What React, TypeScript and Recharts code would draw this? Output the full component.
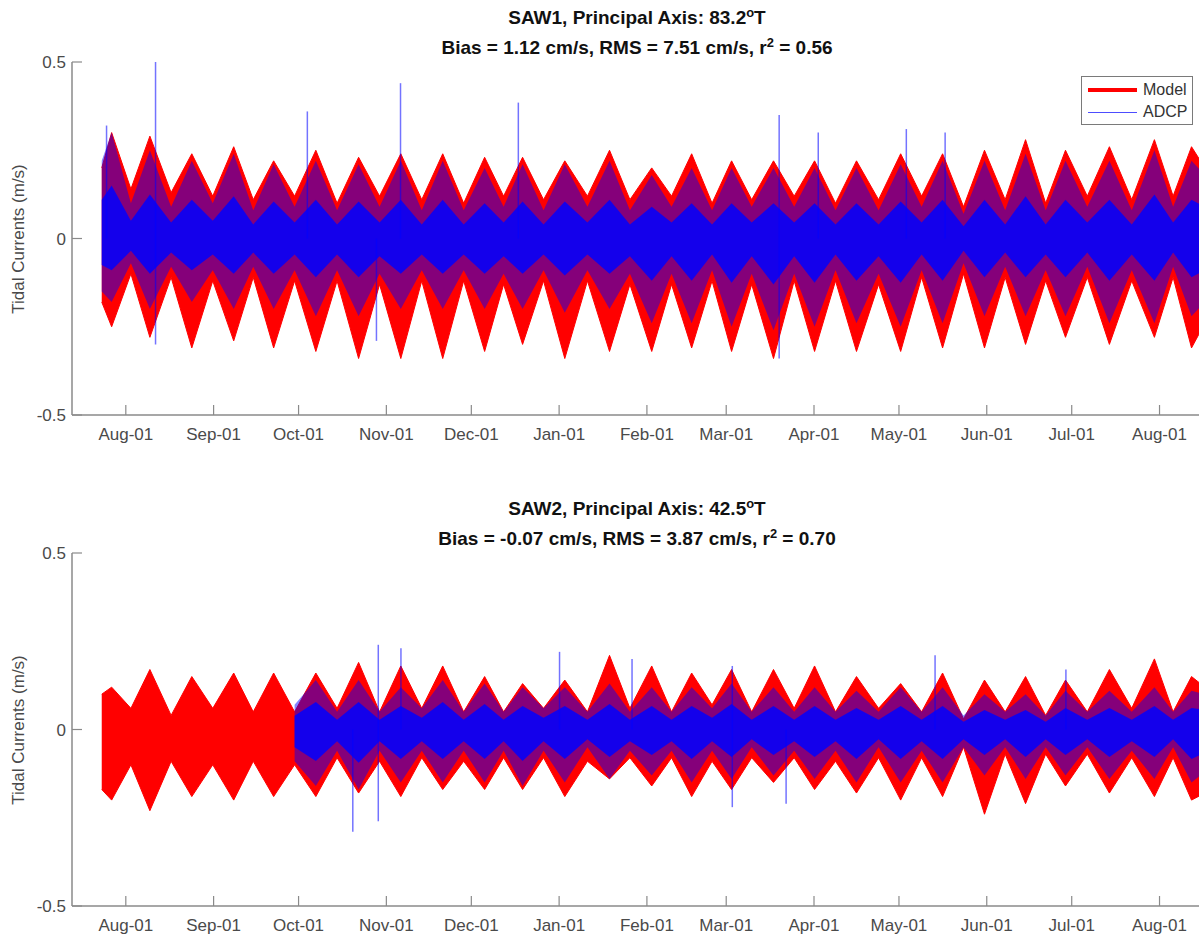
import React from 'react';
import { ComposedChart, Area, Bar, XAxis, YAxis } from 'recharts';

// ---------- axes ----------
const monthTicks = [0, 31, 61, 92, 122, 153, 184, 212, 243, 273, 304, 334, 365];
const monthLabels = ['Aug-01', 'Sep-01', 'Oct-01', 'Nov-01', 'Dec-01', 'Jan-01', 'Feb-01', 'Mar-01', 'Apr-01', 'May-01', 'Jun-01', 'Jul-01', 'Aug-01'];
const yTicks = [-0.5, 0, 0.5];
const yTickLabels = ['-0.5', '0', '0.5'];
const xDomain = [-19, 380];

// ---------- envelope times (days from Aug-01) ----------
const startDay = -8.5;
const endDay = 381;
const springDays = [-5, 8.5, 23.3, 38.1, 52.2, 67.1, 82.2, 97.1, 111.9, 126.7, 140.1, 155, 170.8, 185.7, 199.8, 213.9, 228.7, 243.2, 258, 273.6, 288.4, 303.2, 317.7, 331.8, 347.3, 363.2, 376.3];
const neapDays = [1.8, 16, 30.7, 45, 59.6, 74.6, 89.6, 104.5, 119.3, 133.4, 147.5, 163, 178, 192.7, 207, 221, 236, 250.6, 265.8, 281, 295.8, 310.5, 324.8, 339.5, 355.2, 369.8];

// ---------- SAW1 Model ----------
const saw1ModelStart = [-0.18, 0.2];
const saw1ModelEnd = [-0.24, 0.2];
const saw1ModelSpringHi = [0.30, 0.29, 0.24, 0.26, 0.22, 0.25, 0.23, 0.24, 0.24, 0.23, 0.23, 0.22, 0.25, 0.20, 0.24, 0.22, 0.22, 0.22, 0.22, 0.24, 0.24, 0.25, 0.28, 0.25, 0.26, 0.28, 0.26];
const saw1ModelSpringLo = [-0.25, -0.28, -0.31, -0.29, -0.31, -0.32, -0.34, -0.34, -0.34, -0.32, -0.30, -0.34, -0.32, -0.32, -0.31, -0.32, -0.34, -0.32, -0.32, -0.32, -0.31, -0.31, -0.30, -0.28, -0.30, -0.28, -0.31];
const saw1ModelNeapHi = [0.14, 0.13, 0.12, 0.11, 0.12, 0.10, 0.12, 0.11, 0.10, 0.12, 0.11, 0.12, 0.11, 0.12, 0.10, 0.11, 0.12, 0.10, 0.11, 0.12, 0.09, 0.11, 0.10, 0.12, 0.11, 0.12];
const saw1ModelNeapLo = [-0.10, -0.11, -0.12, -0.11, -0.12, -0.12, -0.13, -0.12, -0.12, -0.13, -0.12, -0.12, -0.13, -0.13, -0.12, -0.13, -0.12, -0.12, -0.13, -0.11, -0.10, -0.11, -0.12, -0.11, -0.12, -0.11];

// ---------- SAW1 ADCP ----------
const saw1AdcpStart = [-0.15, 0.22];
const saw1AdcpEnd = [-0.18, 0.18];
const saw1AdcpSpringHi = [0.30, 0.25, 0.22, 0.24, 0.21, 0.22, 0.21, 0.22, 0.22, 0.20, 0.21, 0.21, 0.22, 0.18, 0.20, 0.20, 0.20, 0.20, 0.20, 0.21, 0.22, 0.22, 0.24, 0.22, 0.22, 0.25, 0.22];
const saw1AdcpSpringLo = [-0.18, -0.20, -0.18, -0.20, -0.20, -0.22, -0.22, -0.20, -0.20, -0.20, -0.20, -0.21, -0.20, -0.24, -0.24, -0.25, -0.26, -0.25, -0.24, -0.25, -0.24, -0.22, -0.22, -0.22, -0.24, -0.24, -0.22];
const saw1AdcpNeapHi = [0.10, 0.09, 0.10, 0.08, 0.09, 0.08, 0.09, 0.08, 0.08, 0.09, 0.08, 0.09, 0.08, 0.09, 0.08, 0.09, 0.09, 0.08, 0.08, 0.09, 0.07, 0.08, 0.08, 0.09, 0.08, 0.09];
const saw1AdcpNeapLo = [-0.07, -0.08, -0.09, -0.08, -0.09, -0.09, -0.10, -0.09, -0.09, -0.10, -0.09, -0.09, -0.10, -0.10, -0.09, -0.10, -0.10, -0.09, -0.10, -0.09, -0.07, -0.08, -0.09, -0.08, -0.09, -0.08];
const saw1SpikeDays = [-6.7, 10.6, 64.2, 88.6, 97.1, 138.7, 230.8, 244.6, 275.7, 289.4];
const saw1SpikeLo = [0, -0.30, 0, -0.29, 0, 0, -0.34, 0, 0, 0];
const saw1SpikeHi = [0.32, 0.50, 0.36, 0, 0.44, 0.385, 0.35, 0.30, 0.31, 0.30];

// ---------- SAW2 Model ----------
const saw2ModelStart = [-0.17, 0.10];
const saw2ModelEnd = [-0.18, 0.12];
const saw2ModelSpringHi = [0.12, 0.17, 0.15, 0.16, 0.16, 0.16, 0.19, 0.18, 0.18, 0.15, 0.13, 0.14, 0.21, 0.18, 0.16, 0.17, 0.17, 0.18, 0.15, 0.13, 0.16, 0.14, 0.15, 0.14, 0.17, 0.20, 0.15];
const saw2ModelSpringLo = [-0.20, -0.23, -0.19, -0.20, -0.19, -0.19, -0.18, -0.19, -0.17, -0.17, -0.17, -0.19, -0.14, -0.16, -0.19, -0.17, -0.15, -0.17, -0.18, -0.20, -0.19, -0.24, -0.21, -0.16, -0.18, -0.19, -0.20];
const saw2ModelNeapHi = [0.06, 0.04, 0.06, 0.05, 0.05, 0.06, 0.05, 0.06, 0.05, 0.05, 0.06, 0.05, 0.06, 0.05, 0.07, 0.05, 0.06, 0.05, 0.06, 0.05, 0.03, 0.05, 0.04, 0.05, 0.06, 0.05];
const saw2ModelNeapLo = [-0.10, -0.09, -0.10, -0.09, -0.10, -0.08, -0.09, -0.08, -0.09, -0.08, -0.08, -0.09, -0.08, -0.08, -0.09, -0.08, -0.08, -0.09, -0.08, -0.08, -0.05, -0.07, -0.07, -0.07, -0.08, -0.08];

// ---------- SAW2 ADCP (record begins late September) ----------
const saw2AdcpEnd = [-0.12, 0.10];
const saw2AdcpSpringHi = [null, null, null, null, null, 0.14, 0.14, 0.12, 0.14, 0.13, 0.12, 0.12, 0.13, 0.12, 0.12, 0.13, 0.12, 0.12, 0.11, 0.12, 0.12, 0.10, 0.10, 0.11, 0.11, 0.12, 0.11];
const saw2AdcpSpringLo = [null, null, null, null, null, -0.16, -0.17, -0.15, -0.15, -0.15, -0.16, -0.15, -0.14, -0.13, -0.15, -0.14, -0.13, -0.14, -0.15, -0.15, -0.15, -0.13, -0.14, -0.13, -0.14, -0.14, -0.15];
const saw2AdcpNeapHi = [null, null, null, null, 0.07, 0.05, 0.05, 0.06, 0.05, 0.05, 0.06, 0.05, 0.05, 0.05, 0.06, 0.05, 0.05, 0.05, 0.05, 0.05, 0.04, 0.05, 0.04, 0.05, 0.05, 0.05];
const saw2AdcpNeapLo = [null, null, null, null, -0.09, -0.06, -0.06, -0.06, -0.06, -0.06, -0.06, -0.05, -0.06, -0.06, -0.06, -0.05, -0.06, -0.06, -0.05, -0.06, -0.05, -0.05, -0.05, -0.05, -0.06, -0.05];
const saw2SpikeDays = [80, 89, 97, 153, 178.6, 214, 233, 285.6, 331.8];
const saw2SpikeLo = [-0.29, -0.26, 0, 0, 0, -0.22, -0.21, 0, 0];
const saw2SpikeHi = [0, 0.24, 0.23, 0.22, 0.20, 0.18, 0, 0.21, 0.17];

// ---------- builders ----------
type Row = { day: number; range: number[] };

function buildEnvelope(start: number[] | null, sHi: (number | null)[], sLo: (number | null)[], nHi: (number | null)[], nLo: (number | null)[], end: number[]): Row[] {
  const rows: Row[] = [];
  if (start) rows.push({ day: startDay, range: start });
  for (let k = 0; k < springDays.length; k++) {
    if (sHi[k] != null && sLo[k] != null) rows.push({ day: springDays[k], range: [sLo[k] as number, sHi[k] as number] });
    if (k < neapDays.length && nHi[k] != null && nLo[k] != null) rows.push({ day: neapDays[k], range: [nLo[k] as number, nHi[k] as number] });
  }
  rows.push({ day: endDay, range: end });
  return rows;
}

function buildSpikes(days: number[], lo: number[], hi: number[]): Row[] {
  return days.map((d, i) => ({ day: d, range: [lo[i], hi[i]] }));
}

const saw1Model = buildEnvelope(saw1ModelStart, saw1ModelSpringHi, saw1ModelSpringLo, saw1ModelNeapHi, saw1ModelNeapLo, saw1ModelEnd);
const saw1Adcp = buildEnvelope(saw1AdcpStart, saw1AdcpSpringHi, saw1AdcpSpringLo, saw1AdcpNeapHi, saw1AdcpNeapLo, saw1AdcpEnd);
const saw1Spikes = buildSpikes(saw1SpikeDays, saw1SpikeLo, saw1SpikeHi);
const saw2Model = buildEnvelope(saw2ModelStart, saw2ModelSpringHi, saw2ModelSpringLo, saw2ModelNeapHi, saw2ModelNeapLo, saw2ModelEnd);
const saw2Adcp = buildEnvelope(null, saw2AdcpSpringHi, saw2AdcpSpringLo, saw2AdcpNeapHi, saw2AdcpNeapLo, saw2AdcpEnd);
const saw2Spikes = buildSpikes(saw2SpikeDays, saw2SpikeLo, saw2SpikeHi);

// ---------- layout / style ----------
const FONT = '"Liberation Sans", Arial, Helvetica, sans-serif';
const CW = 1210;
const CH = 450;
const MARGIN = { top: 62, right: 8, bottom: 5, left: 32 };
const PLOT_H = 353;
const AXIS_COLOR = '#8a8a8a';
const TEXT_COLOR = '#4a4a4a';
const RED = '#ff0000';
const BLUE = '#0000ff';
const CURVE = 'linear';

function Axes({ visible, yDomain }: { visible: boolean; yDomain: number[] }) {
  const tickStyle = { fontSize: 17, fontFamily: FONT, fill: TEXT_COLOR };
  return [
    <XAxis
      key="xb"
      dataKey="day"
      type="number"
      domain={xDomain}
      allowDataOverflow
      ticks={monthTicks}
      interval={0}
      height={30}
      tickFormatter={(v: number) => monthLabels[monthTicks.indexOf(v)] ?? ''}
      tick={visible ? tickStyle : false}
      axisLine={visible ? { stroke: AXIS_COLOR, strokeWidth: 1.5 } : false}
      tickLine={visible ? { stroke: AXIS_COLOR, strokeWidth: 1.2 } : false}
      tickSize={-10}
      tickMargin={23}
    />,
    <YAxis
      key="yl"
      type="number"
      domain={yDomain}
      allowDataOverflow
      ticks={visible ? yTicks : undefined}
      interval={0}
      width={40}
      tickFormatter={(v: number) => yTickLabels[yTicks.indexOf(v)] ?? ''}
      tick={visible ? tickStyle : false}
      axisLine={visible ? { stroke: AXIS_COLOR, strokeWidth: 1.5 } : false}
      tickLine={visible ? { stroke: AXIS_COLOR, strokeWidth: 1.2 } : false}
      tickSize={-10}
      tickMargin={16}
    />,
  ];
}

function Panel({ top, model, adcp, spikes, coreDomain, title1, title2, legend }: any) {
  const layer = { position: 'absolute' as const, left: 0, top: 0 };
  return (
    <div style={{ position: 'absolute', left: 0, top, width: CW, height: CH }}>
      {/* model + axes */}
      <div style={layer}>
        <ComposedChart width={CW} height={CH} data={model} margin={MARGIN}>
          {Axes({ visible: true, yDomain: [-0.5, 0.5] })}
          <XAxis
            xAxisId="top"
            orientation="top"
            dataKey="day"
            type="number"
            domain={xDomain}
            allowDataOverflow
            ticks={monthTicks}
            interval={0}
            height={0}
            tick={false}
            axisLine={{ stroke: AXIS_COLOR, strokeWidth: 1.5 }}
            tickLine={{ stroke: AXIS_COLOR, strokeWidth: 1.2 }}
            tickSize={-10}
          />
          <Area type={CURVE} dataKey="range" stroke={RED} strokeWidth={1} fill={RED} fillOpacity={1} isAnimationActive={false} dot={false} activeDot={false} />
        </ComposedChart>
      </div>
      {/* ADCP full envelope (thin lines over model -> purple) */}
      <div style={layer}>
        <ComposedChart width={CW} height={CH} data={adcp} margin={MARGIN}>
          {Axes({ visible: false, yDomain: [-0.5, 0.5] })}
          <Area type={CURVE} dataKey="range" stroke="none" fill={BLUE} fillOpacity={0.48} isAnimationActive={false} dot={false} activeDot={false} />
        </ComposedChart>
      </div>
      {/* ADCP dense core: same data on a wider value scale */}
      <div style={layer}>
        <ComposedChart width={CW} height={CH} data={adcp} margin={MARGIN}>
          {Axes({ visible: false, yDomain: coreDomain })}
          <Area type={CURVE} dataKey="range" stroke="none" fill={BLUE} fillOpacity={0.85} isAnimationActive={false} dot={false} activeDot={false} />
        </ComposedChart>
      </div>
      {/* ADCP spikes */}
      <div style={layer}>
        <ComposedChart width={CW} height={CH} data={spikes} margin={MARGIN}>
          {Axes({ visible: false, yDomain: [-0.5, 0.5] })}
          <Bar dataKey="range" barSize={1.5} fill={BLUE} fillOpacity={0.55} isAnimationActive={false} />
        </ComposedChart>
      </div>
      {/* titles */}
      <div style={{ position: 'absolute', left: 72, width: 1130, top: 8, textAlign: 'center', fontFamily: FONT, fontWeight: 'bold', fontSize: 19, lineHeight: '20px', color: '#111', whiteSpace: 'nowrap' }}>
        {title1}
      </div>
      <div style={{ position: 'absolute', left: 72, width: 1130, top: 38, textAlign: 'center', fontFamily: FONT, fontWeight: 'bold', fontSize: 19, lineHeight: '20px', color: '#111', whiteSpace: 'nowrap' }}>
        {title2}
      </div>
      {/* y label */}
      <div style={{ position: 'absolute', left: 19, top: MARGIN.top + PLOT_H / 2, transform: 'translate(-50%, -50%) rotate(-90deg)', fontFamily: FONT, fontSize: 17, color: TEXT_COLOR, whiteSpace: 'nowrap' }}>
        Tidal Currents (m/s)
      </div>
      {legend ? (
        <div style={{ position: 'absolute', left: 1081, top: 76, width: 110, height: 47, border: '1px solid #7a7a7a', background: '#fff', fontFamily: FONT, fontSize: 16, color: '#333' }}>
          <div style={{ position: 'absolute', left: 6, top: 11, width: 49, height: 4, background: RED }} />
          <div style={{ position: 'absolute', left: 61, top: 3, lineHeight: '20px' }}>Model</div>
          <div style={{ position: 'absolute', left: 6, top: 35, width: 49, height: 1, background: '#4d4dff' }} />
          <div style={{ position: 'absolute', left: 61, top: 25, lineHeight: '20px' }}>ADCP</div>
        </div>
      ) : null}
    </div>
  );
}

const sup = (s: string) => <span style={{ fontSize: '0.68em', position: 'relative', top: '-0.55em' }}>{s}</span>;

export default function App() {
  return (
    <div style={{ position: 'absolute', left: 0, top: 0, width: 1199, height: 936, overflow: 'hidden', background: '#fff' }}>
      <Panel
        top={0}
        model={saw1Model}
        adcp={saw1Adcp}
        spikes={saw1Spikes}
        coreDomain={[-1.0, 1.0]}
        title1={<span>SAW1, Principal Axis: 83.2{sup('o')}T</span>}
        title2={<span>Bias = 1.12 cm/s, RMS = 7.51 cm/s, r{sup('2')} = 0.56</span>}
        legend
      />
      <Panel
        top={491}
        model={saw2Model}
        adcp={saw2Adcp}
        spikes={saw2Spikes}
        coreDomain={[-0.9, 0.9]}
        title1={<span>SAW2, Principal Axis: 42.5{sup('o')}T</span>}
        title2={<span>Bias = -0.07 cm/s, RMS = 3.87 cm/s, r{sup('2')} = 0.70</span>}
        legend={false}
      />
    </div>
  );
}
